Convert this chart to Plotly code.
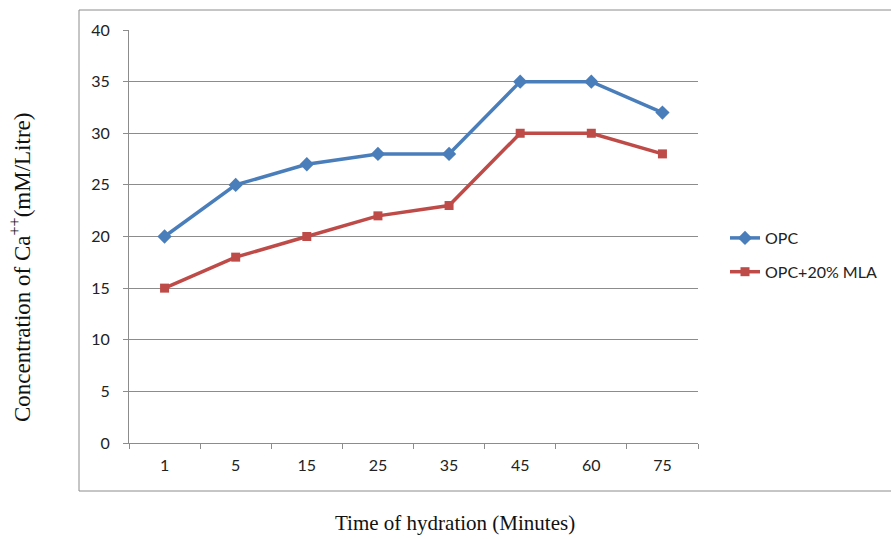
import plotly.graph_objects as go

categories = ["1", "5", "15", "25", "35", "45", "60", "75"]
opc = [20, 25, 27, 28, 28, 35, 35, 32]
opc_mla = [15, 18, 20, 22, 23, 30, 30, 28]
y_ticks = [0, 5, 10, 15, 20, 25, 30, 35, 40]

BLUE = "#4A7EBB"
RED = "#BE4B48"
GRID = "#8C8C8C"
TICKFONT = dict(family="Lato, Carlito, 'Liberation Sans'", size=16, color="#222")
SERIF_X = dict(family="'Liberation Serif', 'Times New Roman', serif", size=21, color="#111")
SERIF_Y = dict(family="'Liberation Serif', 'Times New Roman', serif", size=23, color="#111")

fig = go.Figure()
fig.add_trace(go.Scatter(
    x=categories, y=opc, name="OPC", mode="lines+markers",
    line=dict(color=BLUE, width=3.5),
    marker=dict(symbol="diamond", size=11, color=BLUE),
    legendgroup="a",
))
fig.add_trace(go.Scatter(
    x=categories, y=opc_mla, name="OPC+20% MLA", mode="lines+markers",
    line=dict(color=RED, width=3.5),
    marker=dict(symbol="square", size=9, color=RED),
    legendgroup="b",
))

W, H = 891, 539
L, R, T, B = 129, 193, 30, 96
pw, ph = W - L - R, H - T - B

def px(x):
    return (x - L) / pw

def py(y):
    return (H - B - y) / ph

fig.update_layout(
    width=W, height=H,
    margin=dict(l=L, r=R, t=T, b=B, autoexpand=False),
    paper_bgcolor="white", plot_bgcolor="white",
    showlegend=True,
    legend=dict(
        x=px(725), y=py(221), xanchor="left", yanchor="top",
        font=dict(family="Lato, Carlito, 'Liberation Sans'", size=16, color="#222"),
        tracegroupgap=10, traceorder="grouped",
        bgcolor="rgba(0,0,0,0)",
    ),
    xaxis=dict(
        type="category", range=[-0.5, 7.5],
        showgrid=False, showline=True, linecolor=GRID, linewidth=1,
        ticks="outside", tickson="boundaries", ticklen=5, tickcolor=GRID,
        tickfont=TICKFONT, zeroline=False, ticklabelstandoff=8,
    ),
    yaxis=dict(
        range=[0, 40], tickvals=y_ticks,
        showgrid=True, gridcolor=GRID, gridwidth=1,
        showline=True, linecolor=GRID, linewidth=1,
        ticks="outside", ticklen=5, tickcolor=GRID,
        tickfont=TICKFONT, zeroline=False, ticklabelstandoff=10,
    ),
    shapes=[dict(
        type="rect", xref="paper", yref="paper",
        x0=px(79), x1=px(1000), y0=py(491), y1=py(10),
        line=dict(color=GRID, width=1), fillcolor="rgba(0,0,0,0)", layer="below",
    )],
    annotations=[
        dict(text="Concentration of Ca<sup>++</sup>(mM/Litre)", xref="paper", yref="paper",
             x=px(20), y=py(268), textangle=-90, showarrow=False, font=SERIF_Y,
             xanchor="center", yanchor="middle"),
        dict(text="Time of hydration (Minutes)", xref="paper", yref="paper",
             x=px(455), y=py(523), showarrow=False, font=SERIF_X,
             xanchor="center", yanchor="middle"),
    ],
)

fig.write_html("out.html")
